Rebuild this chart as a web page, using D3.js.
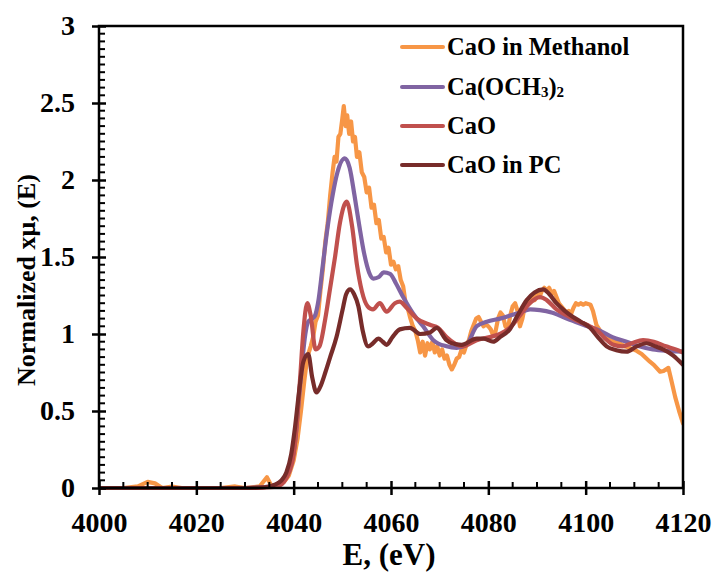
<!DOCTYPE html>
<html>
<head>
<meta charset="utf-8">
<script src="https://cdn.jsdelivr.net/npm/d3@7"></script>
<style>
  body { margin: 0; background: #fff; }
  svg text { font-family: "Liberation Serif", "Times New Roman", serif; font-weight: bold; fill: #000; }
</style>
</head>
<body>
<svg id="chart" width="714" height="573"></svg>
<script>
// [energy eV, normalized xmu]
const caoMethanol = [
  [4000,0],[4005,0],[4008,0.01],[4010,0.04],[4011.5,0.03],[4013,0],[4015,0.01],[4017,0],[4025,0],[4028,0.01],
  [4030,0],[4033,0.01],[4034.5,0.07],[4035.5,0.01],[4037,0.02],[4038,0.04],[4039,0.08],[4040,0.18],[4040.8,0.32],
  [4041.5,0.5],[4042.2,0.7],[4042.8,0.85],[4043.5,0.92],[4044,0.98],[4044.5,1.08],[4045,1.12],[4045.5,1.28],
  [4046,1.42],[4046.5,1.6],[4047,1.72],[4047.5,1.9],[4048,2.05],[4048.4,2.15],[4048.8,2.12],[4049.2,2.28],
  [4049.6,2.3],[4050,2.4],[4050.3,2.48],[4050.7,2.35],[4051,2.42],[4051.4,2.3],[4051.8,2.38],[4052.2,2.25],
  [4052.6,2.28],[4053,2.15],[4053.5,2.18],[4054,2.05],[4054.5,2.02],[4055,1.92],[4055.5,1.95],[4056,1.82],
  [4056.5,1.84],[4057,1.72],[4057.5,1.74],[4058,1.62],[4058.5,1.63],[4059,1.53],[4059.5,1.56],[4060,1.45],
  [4060.5,1.47],[4061,1.42],[4061.5,1.44],[4062,1.35],[4062.5,1.31],[4063,1.2],[4063.5,1.16],[4064,1.1],
  [4064.5,1.05],[4065,1.02],[4065.5,0.96],[4066,0.88],[4066.5,0.95],[4067,0.86],[4067.5,0.94],[4068,0.9],
  [4068.5,0.95],[4069,0.88],[4069.5,0.92],[4070,0.86],[4070.5,0.9],[4071,0.84],[4071.5,0.86],[4072,0.8],
  [4072.5,0.77],[4073,0.8],[4073.5,0.84],[4074,0.85],[4074.5,0.9],[4075,0.88],[4075.5,0.93],[4076,0.96],
  [4076.5,1.02],[4077,1.06],[4077.5,1.1],[4078,1.11],[4078.5,1.08],[4079,1.05],[4079.5,1.06],[4080,1.05],
  [4080.5,1.03],[4081,0.99],[4081.5,1.02],[4082,1.1],[4082.5,1.14],[4083,1.12],[4083.5,1.05],[4084,1.03],
  [4084.5,1.12],[4085,1.18],[4085.5,1.2],[4086,1.15],[4086.5,1.05],[4087,1.1],[4087.5,1.18],[4088,1.22],
  [4088.5,1.2],[4089,1.24],[4089.5,1.22],[4090,1.26],[4090.5,1.24],[4091,1.28],[4091.5,1.3],[4092,1.28],
  [4092.5,1.3],[4093,1.26],[4093.5,1.28],[4094,1.24],[4094.5,1.2],[4095,1.18],[4095.5,1.16],[4096,1.14],
  [4096.5,1.15],[4097,1.13],[4097.5,1.17],[4098,1.2],[4098.5,1.19],[4099,1.2],[4099.5,1.19],[4100,1.2],
  [4101,1.19],[4101.5,1.15],[4102.2,1.06],[4103,1.02],[4104,0.98],[4105,0.96],[4106,0.95],[4107,0.94],
  [4108,0.92],[4109,0.91],[4110.5,0.89],[4111.5,0.87],[4113.2,0.82],[4114,0.8],[4115.3,0.755],[4116,0.76],
  [4117,0.78],[4117.6,0.7],[4118.4,0.59],[4119.2,0.5],[4120,0.42]
];

const caOCH3 = [
  [4000,0],[4030,0],[4035,0.01],[4037,0.03],[4038.5,0.07],[4039.5,0.15],[4040.3,0.3],[4041,0.55],
  [4041.7,0.8],[4042.4,1.0],[4043,1.08],[4043.8,1.1],[4044.4,1.12],[4045,1.2],[4046,1.45],[4047,1.7],
  [4048,1.9],[4049,2.05],[4050.5,2.14],[4051.5,2.08],[4052.5,1.9],[4053.5,1.7],[4054.5,1.52],[4055.5,1.4],
  [4056.4,1.36],[4057.5,1.37],[4058.5,1.4],[4059.8,1.39],[4061,1.33],[4062.5,1.24],[4064.6,1.13],
  [4066.6,1.05],[4068.7,0.96],[4071.4,0.92],[4073.5,0.91],[4075.5,0.93],[4077.6,1.05],[4079.7,1.08],
  [4082.4,1.1],[4084.5,1.12],[4086.5,1.14],[4088.6,1.16],[4090.6,1.155],[4093,1.14],[4096.1,1.1],
  [4099.5,1.06],[4103,1.02],[4105.5,0.98],[4108.4,0.95],[4111,0.92],[4113.8,0.9],[4117,0.89],[4120,0.885]
];

const cao = [
  [4000,0],[4030,0],[4035,0.005],[4036.5,0.01],[4038,0.04],[4039,0.1],[4040,0.22],[4040.6,0.4],
  [4041.3,0.7],[4042,1.02],[4042.8,1.2],[4043.5,1.12],[4044.5,0.9],[4045.3,0.92],[4046.5,1.1],[4047.5,1.3],
  [4048.5,1.5],[4049.5,1.72],[4050.9,1.86],[4052,1.7],[4053,1.45],[4054,1.28],[4055.2,1.18],[4056.3,1.16],
  [4057.7,1.2],[4059.1,1.145],[4060.8,1.2],[4061.8,1.21],[4063.2,1.17],[4065.3,1.1],[4068,1.06],
  [4069.7,1.04],[4071.4,0.98],[4074.8,0.92],[4077.6,0.96],[4080.3,0.98],[4082.4,1.0],[4084.4,1.04],
  [4086.5,1.12],[4088.5,1.2],[4090.6,1.24],[4092,1.22],[4094,1.16],[4096.1,1.12],[4098,1.09],
  [4100.2,1.06],[4102.5,1.02],[4104,0.97],[4105.7,0.93],[4107.5,0.92],[4109.5,0.94],[4111.8,0.96],
  [4114,0.95],[4116.5,0.92],[4118.5,0.9],[4120,0.88]
];

const caoPC = [
  [4000,0],[4030,0],[4034,0.005],[4036,0.02],[4037.5,0.05],[4038.5,0.1],[4039.5,0.22],[4040.3,0.4],
  [4041.2,0.65],[4042,0.82],[4043,0.87],[4043.8,0.72],[4044.7,0.62],[4045.5,0.66],[4046.5,0.75],
  [4047.5,0.85],[4048.8,0.98],[4050,1.15],[4050.8,1.26],[4051.6,1.29],[4052.4,1.26],[4053.3,1.18],
  [4054.2,1.02],[4055.3,0.92],[4056.3,0.94],[4057.4,0.97],[4058.3,0.95],[4059.1,0.93],[4060.3,0.98],
  [4061.8,1.03],[4063.9,1.04],[4066,1.0],[4068,1.01],[4069.4,1.04],[4071.4,0.96],[4072.5,0.94],
  [4074.5,0.93],[4077.6,0.97],[4079,0.97],[4081,0.95],[4082.4,0.98],[4084.4,1.03],[4086,1.12],
  [4087.9,1.22],[4089.5,1.27],[4091.3,1.29],[4092.5,1.26],[4094,1.2],[4095.7,1.15],[4097.4,1.11],
  [4099,1.08],[4100.9,1.04],[4102.5,0.98],[4104.3,0.92],[4106.3,0.895],[4108.4,0.885],[4110.5,0.92],
  [4112.5,0.94],[4114.3,0.92],[4115.9,0.9],[4118,0.86],[4120,0.8]
];

const seriesNames = ['CaO in Methanol', 'Ca(OCH3)2', 'CaO', 'CaO in PC'];
const seriesData = [caoMethanol, caOCH3, cao, caoPC];
const seriesColors = ['#F79646', '#8064A2', '#C0504D', '#772C2A'];

const xTicks = [4000, 4020, 4040, 4060, 4080, 4100, 4120];
const yTicks = [0, 0.5, 1, 1.5, 2, 2.5, 3];

const svg = d3.select('#chart');
const mLeft = 99, mRight = 683, mTop = 26, mBottom = 488;

const x = d3.scaleLinear().domain([4000, 4120]).range([mLeft, mRight]);
const y = d3.scaleLinear().domain([0, 3]).range([mBottom, mTop]);

svg.append('defs').append('clipPath').attr('id', 'plotClip')
  .append('rect').attr('x', mLeft).attr('y', mTop - 5).attr('width', mRight - mLeft).attr('height', mBottom - mTop + 10);

// series
const line = d3.line().x(d => x(d[0])).y(d => y(d[1]));
const plot = svg.append('g').attr('clip-path', 'url(#plotClip)');
seriesData.forEach((data, i) => {
  plot.append('path')
    .datum(data)
    .attr('fill', 'none')
    .attr('stroke', seriesColors[i])
    .attr('stroke-width', 4.2)
    .attr('stroke-linejoin', 'round')
    .attr('stroke-linecap', 'round')
    .attr('d', line.curve(i === 0 ? d3.curveLinear : d3.curveMonotoneX));
});

// frame
svg.append('rect')
  .attr('x', mLeft).attr('y', mTop)
  .attr('width', mRight - mLeft).attr('height', mBottom - mTop)
  .attr('fill', 'none').attr('stroke', '#000').attr('stroke-width', 2.5);

// minor ticks (inside)
const xMinor = d3.range(4005, 4120, 5).filter(v => v % 20 !== 0);
svg.append('g').selectAll('line').data(xMinor).join('line')
  .attr('x1', d => x(d)).attr('x2', d => x(d))
  .attr('y1', mBottom).attr('y2', mBottom - 6)
  .attr('stroke', '#000').attr('stroke-width', 2);

const yMinor = d3.range(1, 60).map(i => i * 0.05).filter(v => Math.abs(v * 2 - Math.round(v * 2)) > 1e-6);
svg.append('g').selectAll('line').data(yMinor).join('line')
  .attr('x1', mLeft).attr('x2', mLeft + 6)
  .attr('y1', d => y(d)).attr('y2', d => y(d))
  .attr('stroke', '#000').attr('stroke-width', 2);

// major ticks + labels via axes
const xAxis = svg.append('g').attr('transform', `translate(0,${mBottom})`)
  .call(d3.axisBottom(x).tickValues(xTicks).tickSize(7).tickFormat(d3.format('d')));
xAxis.select('.domain').remove();
xAxis.selectAll('.tick line').attr('y1', -7).attr('stroke-width', 2.5);
xAxis.selectAll('.tick text').attr('font-size', 28).attr('y', 44).attr('dy', 0);

const yAxis = svg.append('g').attr('transform', `translate(${mLeft},0)`)
  .call(d3.axisLeft(y).tickValues(yTicks).tickSize(7).tickPadding(17).tickFormat(d => d));
yAxis.select('.domain').remove();
yAxis.selectAll('.tick line').attr('x1', 7).attr('stroke-width', 2.5);
yAxis.selectAll('.tick text').attr('font-size', 28);
svg.selectAll('.tick text').style('font-family', '"Liberation Serif", serif').style('font-weight', 'bold');

// axis titles
svg.append('text')
  .attr('x', 389).attr('y', 565)
  .attr('text-anchor', 'middle').attr('font-size', 31)
  .text('E, (eV)');

svg.append('text')
  .attr('transform', 'translate(35,280) rotate(-90)')
  .attr('text-anchor', 'middle').attr('font-size', 26)
  .text('Normalized  xμ, (E)');

// legend
const legendY = [47, 87, 126, 165];
const legend = svg.append('g');
seriesNames.forEach((name, i) => {
  legend.append('line')
    .attr('x1', 402).attr('x2', 443)
    .attr('y1', legendY[i]).attr('y2', legendY[i])
    .attr('stroke', seriesColors[i]).attr('stroke-width', 4).attr('stroke-linecap', 'round');
  const t = legend.append('text').attr('x', 447).attr('y', legendY[i] + 8).attr('font-size', 24.5);
  if (name === 'Ca(OCH3)2') {
    t.append('tspan').text('Ca(OCH');
    t.append('tspan').attr('font-size', 15).attr('dy', 2).text('3');
    t.append('tspan').attr('dy', -2).text(')');
    t.append('tspan').attr('font-size', 15).attr('dy', 2).text('2');
  } else {
    t.text(name);
  }
});
</script>
</body>
</html>
